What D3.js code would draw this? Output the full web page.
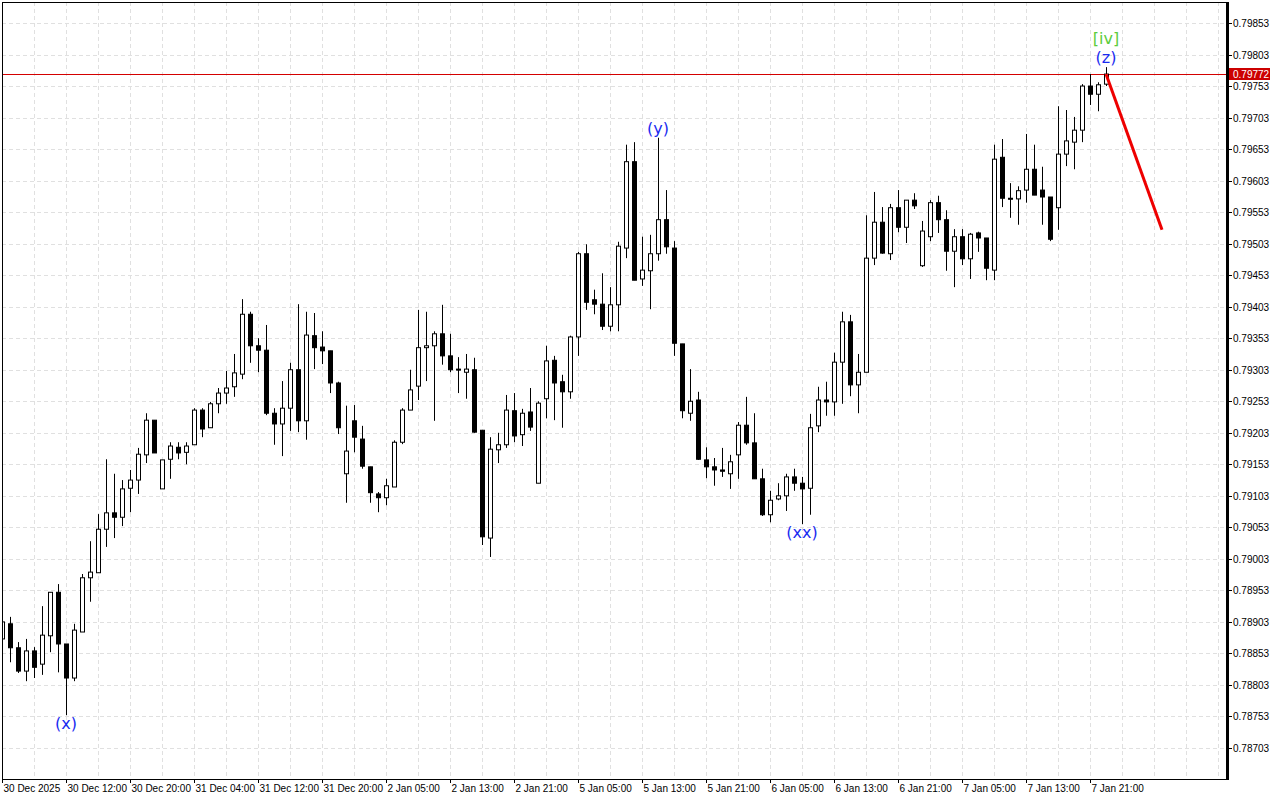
<!DOCTYPE html>
<html>
<head>
<meta charset="utf-8">
<script src="https://cdn.jsdelivr.net/npm/d3@7"></script>
<style>
  body { margin: 0; background: #fff; }
  svg { display: block; font-family: "DejaVu Sans", sans-serif; }
  .ax { font-family: "Liberation Sans", Arial, sans-serif; font-size: 10px; }
</style>
</head>
<body>
<svg width="1280" height="800"></svg>
<script>
// hourly bars, 30 Dec 2025 -> 7 Jan 2026
const opens  = [78876,78900,78862,78825,78857,78836,78881,78950,78868,78814,78887,78973,78981,79050,79076,79069,79115,79128,79168,79223,
                79114,79161,79180,79172,79184,79239,79211,79249,79266,79276,79296,79391,79341,79334,79234,79217,79242,79303,79222,79357,
                79339,79333,79282,79138,79222,79193,79149,79106,79100,79117,79188,79239,79277,79338,79341,79360,79325,79304,79299,79303,
                79207,79036,79176,79184,79238,79200,79236,79123,79257,79318,79284,79268,79355,79487,79414,79407,79372,79406,79496,79633,
                79447,79460,79487,79541,79496,79344,79234,79255,79160,79149,79144,79138,79168,79215,79187,79130,79073,79098,79103,79133,
                79123,79115,79214,79255,79252,79315,79379,79279,79299,79480,79537,79487,79560,79529,79572,79468,79514,79568,79541,79491,
                79514,79479,79520,79512,79461,79640,79575,79574,79588,79621,79588,79577,79560,79645,79664,79683,79753,79740,79756];
const highs  = [78914,78911,78871,78876,78863,78928,78950,78963,78868,78900,78979,79031,79074,79161,79138,79128,79144,79179,79234,79223,
                79160,79188,79188,79188,79242,79242,79252,79274,79301,79328,79415,79395,79353,79374,79242,79285,79314,79407,79395,79393,
                79364,79333,79284,79246,79247,79214,79149,79109,79130,79191,79242,79303,79398,79395,79364,79406,79360,79323,79328,79322,
                79207,79196,79203,79263,79266,79241,79274,79253,79341,79325,79295,79357,79490,79502,79430,79456,79434,79506,79660,79664,
                79514,79517,79671,79588,79507,79344,79304,79268,79180,79163,79179,79168,79220,79260,79234,79146,79111,79123,79138,79146,
                79133,79233,79276,79284,79330,79395,79390,79328,79548,79585,79561,79566,79588,79572,79583,79539,79572,79579,79556,79526,
                79526,79520,79522,79512,79660,79669,79599,79594,79677,79660,79625,79577,79721,79715,79704,79756,79772,79759,79783];
const lows   = [78866,78839,78822,78809,78814,78819,78855,78823,78755,78809,78887,78935,78981,79022,79036,79055,79077,79106,79155,79171,
                79114,79130,79161,79153,79184,79196,79211,79234,79249,79260,79288,79314,79299,79231,79184,79166,79206,79204,79192,79304,
                79312,79266,79201,79092,79172,79146,79092,79077,79088,79117,79185,79239,79255,79285,79222,79311,79299,79266,79257,79203,
                79025,79006,79155,79179,79188,79182,79206,79123,79226,79223,79211,79257,79325,79398,79391,79366,79364,79364,79480,79445,
                79436,79399,79476,79487,79325,79226,79222,79160,79131,79119,79133,79114,79130,79184,79130,79071,79061,79096,79079,79111,
                79058,79073,79204,79230,79230,79249,79261,79234,79299,79469,79487,79477,79521,79504,79558,79466,79507,79520,79460,79434,
                79469,79447,79490,79445,79445,79561,79544,79533,79568,79580,79533,79507,79525,79626,79621,79664,79723,79713,79753];
const closes = [78903,78862,78825,78857,78831,78882,78950,78868,78814,78890,78973,78982,79050,79076,79069,79114,79128,79169,79223,79171,
                79160,79182,79171,79182,79239,79209,79249,79266,79274,79298,79391,79341,79334,79234,79217,79242,79303,79222,79358,79338,
                79333,79282,79211,79174,79196,79150,79108,79100,79119,79188,79239,79271,79338,79341,79360,79325,79303,79303,79304,79204,
                79038,79177,79184,79239,79198,79234,79212,79250,79317,79282,79268,79355,79487,79410,79407,79372,79406,79499,79633,79445,
                79461,79487,79541,79498,79345,79238,79253,79161,79149,79144,79142,79157,79215,79187,79130,79073,79096,79103,79133,79123,
                79114,79211,79255,79252,79315,79379,79279,79299,79480,79537,79488,79560,79529,79572,79563,79523,79568,79541,79491,79514,
                79479,79518,79512,79464,79637,79575,79574,79587,79621,79580,79577,79510,79645,79666,79683,79753,79740,79755,79772];

const timeLabels = ["30 Dec 2025","30 Dec 12:00","30 Dec 20:00","31 Dec 04:00","31 Dec 12:00","31 Dec 20:00",
                    "2 Jan 05:00","2 Jan 13:00","2 Jan 21:00","5 Jan 05:00","5 Jan 13:00","5 Jan 21:00",
                    "6 Jan 05:00","6 Jan 13:00","6 Jan 21:00","7 Jan 05:00","7 Jan 13:00","7 Jan 21:00"];
const priceTicks = d3.range(0, 24).map(k => 0.78703 + k * 0.0005);
const currentPrice = 0.79772;
const waveLabels = [
  { bar: 8,   text: "(x)",  pos: "below", color: "#1a2cf0" },
  { bar: 82,  text: "(y)",  pos: "above", color: "#1a2cf0" },
  { bar: 100, text: "(xx)", pos: "below", color: "#1a2cf0" },
  { bar: 138, text: "(z)",  pos: "above", color: "#1a2cf0" },
  { bar: 138, text: "[iv]", pos: "above2", color: "#5ccc3c" }
];
const forecast = [{ bar: 138, price: 0.79772 }, { bar: 145, price: 0.79525 }];

const bars = opens.map((o, i) => ({
  i: i, o: o / 1e5, h: highs[i] / 1e5, l: lows[i] / 1e5, c: closes[i] / 1e5
}));

const svg = d3.select("svg");
const pL = 2, pR = 1227, pT = 2, pB = 779;

const x = d3.scaleLinear().domain([0, (pR - pL) / 8]).range([pL, pR]);
const y = d3.scaleLinear().domain([0.78703, 0.79853]).range([748, 23]);

svg.append("defs").append("clipPath").attr("id", "clip")
  .append("rect").attr("x", pL).attr("y", pT).attr("width", pR - pL).attr("height", pB - pT);

const grid = svg.append("g").attr("stroke", "#e0e0e0").attr("stroke-dasharray", "4,3");
d3.range(4, 153, 4).forEach(b => {
  grid.append("line").attr("x1", Math.round(x(b)) + 0.5).attr("x2", Math.round(x(b)) + 0.5).attr("y1", pT).attr("y2", pB);
});
priceTicks.forEach(p => {
  grid.append("line").attr("x1", pL).attr("x2", pR).attr("y1", Math.round(y(p)) + 0.5).attr("y2", Math.round(y(p)) + 0.5);
});

const plot = svg.append("g").attr("clip-path", "url(#clip)");

// current price line
plot.append("line").attr("x1", pL).attr("x2", pR)
  .attr("y1", Math.round(y(currentPrice)) + 0.5).attr("y2", Math.round(y(currentPrice)) + 0.5)
  .attr("stroke", "#d40000").attr("stroke-width", 1);

const candle = plot.selectAll(".c").data(bars).enter().append("g");
candle.append("line")
  .attr("x1", d => Math.round(x(d.i)) + 0.5).attr("x2", d => Math.round(x(d.i)) + 0.5)
  .attr("y1", d => y(d.h)).attr("y2", d => y(d.l))
  .attr("stroke", "#000").attr("stroke-width", 1);
candle.append("rect")
  .attr("x", d => Math.round(x(d.i)) - 1.5)
  .attr("y", d => y(Math.max(d.o, d.c)))
  .attr("width", 4)
  .attr("height", d => Math.max(1, Math.abs(y(d.o) - y(d.c))))
  .attr("fill", d => d.c >= d.o ? "#fff" : "#000")
  .attr("stroke", "#000").attr("stroke-width", 1);

// forecast
plot.append("line")
  .attr("x1", x(forecast[0].bar)).attr("y1", y(forecast[0].price))
  .attr("x2", x(forecast[1].bar)).attr("y2", y(forecast[1].price))
  .attr("stroke", "#ee0000").attr("stroke-width", 3);

// wave labels
waveLabels.forEach(w => {
  const b = bars[w.bar];
  let ty;
  if (w.pos === "below") ty = y(b.l) + 14;
  else if (w.pos === "above") ty = y(b.h) - 4;
  else ty = y(b.h) - 23;
  svg.append("text").attr("x", x(w.bar)).attr("y", ty).attr("text-anchor", "middle")
    .attr("font-size", 16).attr("fill", w.color).text(w.text);
});

// frame
svg.append("rect").attr("x", pL + 0.5).attr("y", pT + 0.5).attr("width", pR - pL).attr("height", pB - pT)
  .attr("fill", "none").attr("stroke", "#000").attr("stroke-width", 1);
svg.append("line").attr("x1", pR + 0.5).attr("x2", pR + 0.5).attr("y1", pT).attr("y2", pB + 1)
  .attr("stroke", "#000").attr("stroke-width", 3);

// price axis
priceTicks.forEach(p => {
  const py = Math.round(y(p)) + 0.5;
  svg.append("line").attr("x1", pR + 2).attr("x2", pR + 5).attr("y1", py).attr("y2", py).attr("stroke", "#000");
  svg.append("text").attr("class", "ax").attr("x", pR + 6).attr("y", py + 3.5).attr("fill", "#000")
    .text(p.toFixed(5));
});
const cy = Math.round(y(currentPrice));
svg.append("rect").attr("x", pR + 2).attr("y", cy - 6).attr("width", 41).attr("height", 12).attr("fill", "#cc0000");
svg.append("text").attr("class", "ax").attr("x", pR + 6).attr("y", cy + 4).attr("fill", "#fff").text(currentPrice.toFixed(5));

// time axis
timeLabels.forEach((t, k) => {
  const tx = Math.round(x(k * 8)) + 0.5;
  svg.append("line").attr("x1", tx).attr("x2", tx).attr("y1", pB).attr("y2", pB + 4).attr("stroke", "#000");
  svg.append("text").attr("class", "ax").attr("x", tx + 1).attr("y", pB + 13).attr("fill", "#000").text(t);
});
</script>
</body>
</html>
